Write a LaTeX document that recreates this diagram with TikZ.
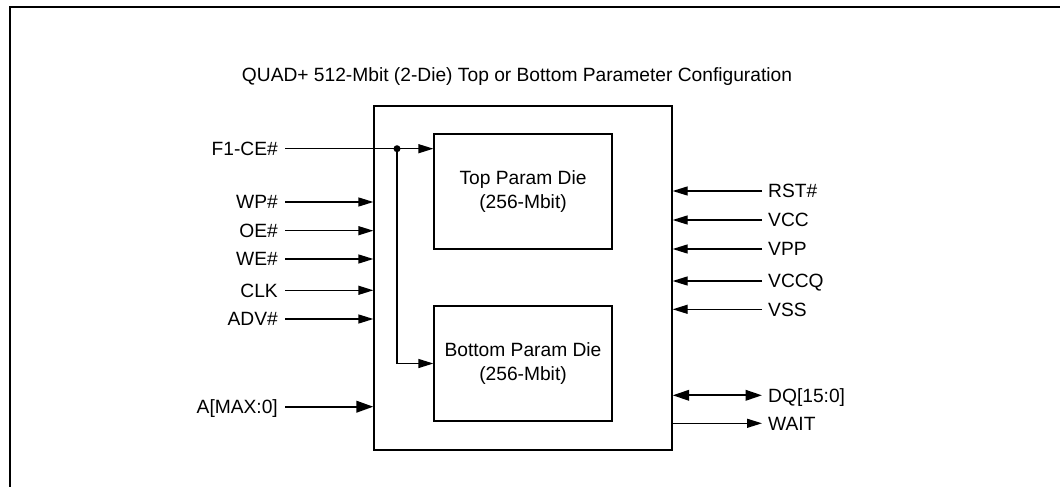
\documentclass[tikz,border=0pt]{standalone}
\usepackage{fontspec}
\setmainfont{Liberation Sans}
\usetikzlibrary{arrows.meta}
\begin{document}
\begin{tikzpicture}[x=1pt,y=-1pt,
  font=\fontsize{19.2}{23.5}\selectfont,
  wire/.style={line width=1.3pt},
  bus/.style={line width=2.2pt},
  tip/.style={-{Triangle[length=15pt,width=9pt]}},
  bustip/.style={-{Triangle[length=17pt,width=11.5pt]}},
  dbltip/.style={{Triangle[length=16.5pt,width=10.5pt]}-{Triangle[length=16.5pt,width=10.5pt]}},
  blk/.style={draw,line width=1.3pt,inner sep=0pt,align=center},
  capt/.style={inner sep=0pt,text height=13.75pt,text depth=0pt},
  pinl/.style={capt,anchor=east,inner xsep=7pt},
  pinr/.style={capt,anchor=west,inner xsep=6pt}
]
\useasboundingbox (0,0) rectangle (1060,487);
% outer frame (cropped)
\draw[line width=2pt] (10,487) -- (10,7) -- (1060,7);

\node[capt] (title) at (517,75) {QUAD+ 512-Mbit (2-Die) Top or Bottom Parameter Configuration};

\node[blk,minimum width=298pt,minimum height=344pt] (main) at (523,278) {};
\node[blk,minimum width=178pt,minimum height=115pt] (top) at (523,191.5) {Top Param Die\\(256-Mbit)};
\node[blk,minimum width=178pt,minimum height=115pt] (bot) at (523,363.5) {Bottom Param Die\\(256-Mbit)};

% left pins
\node[pinl] (f1)  at (285,148.7) {F1-CE\#};
\node[pinl] (wp)  at (285,202)   {WP\#};
\node[pinl] (oe)  at (285,230.7) {OE\#};
\node[pinl] (we)  at (285,259)   {WE\#};
\node[pinl] (clk) at (285,290.3) {CLK};
\node[pinl] (adv) at (285,319)   {ADV\#};
\node[pinl] (addr) at (285,406.7) {A[MAX:0]};

\node[circle,fill,inner sep=0pt,minimum size=7pt] (j) at (397,148.7) {};
\draw[wire,tip] (f1.east) -- (f1.east -| top.west);
\draw[wire,tip] (j.center) |- (bot.west);
\foreach \p in {wp,oe,we,clk,adv}
  \draw[wire,tip] (\p.east) -- (\p.east -| main.west);
\draw[bus,bustip] (addr.east) -- (addr.east -| main.west);

% right pins
\node[pinr] (rst)  at (762,191)   {RST\#};
\node[pinr] (vcc)  at (762,220)   {VCC};
\node[pinr] (vpp)  at (762,249)   {VPP};
\node[pinr] (vccq) at (762,281)   {VCCQ};
\node[pinr] (vss)  at (762,309.3) {VSS};
\node[pinr] (dq)   at (762,395.3) {DQ[15:0]};
\node[pinr] (wait) at (762,423.3) {WAIT};

\foreach \p in {rst,vcc,vpp,vccq,vss}
  \draw[wire,tip] (\p.west) -- (\p.west -| main.east);
\draw[bus,dbltip] (dq.west -| main.east) -- (dq.west);
\draw[wire,tip] (wait.west -| main.east) -- (wait.west);
\end{tikzpicture}
\end{document}
